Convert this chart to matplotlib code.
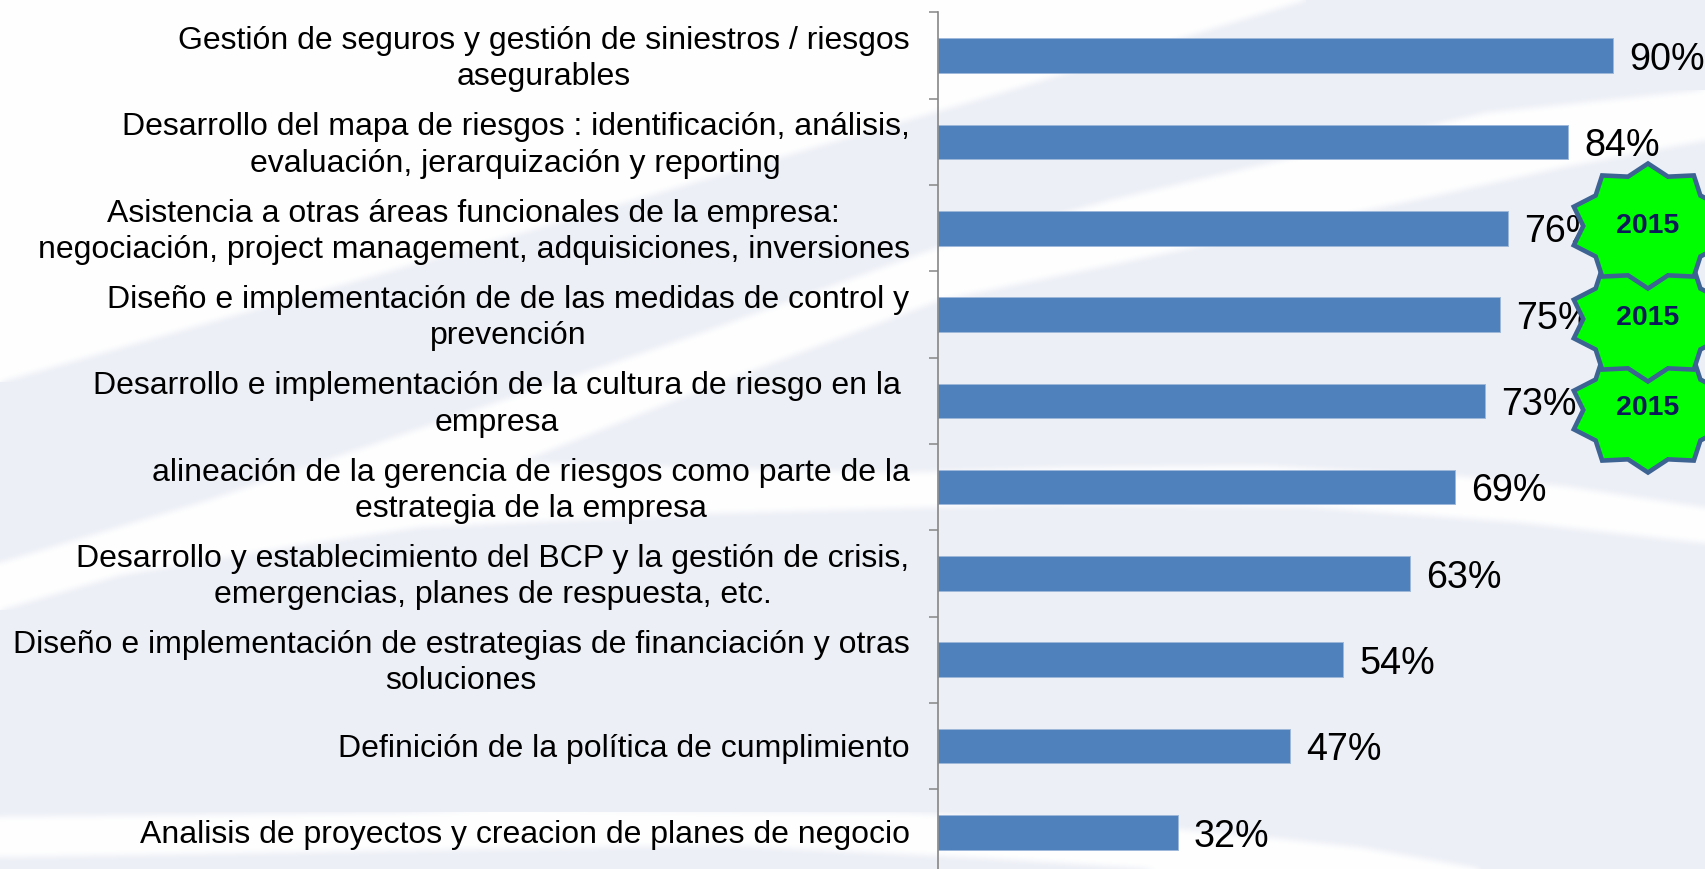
import numpy as np
import matplotlib
matplotlib.use("Agg")
import matplotlib.pyplot as plt
from matplotlib.patches import Polygon
from matplotlib.transforms import Affine2D, ScaledTranslation

W, H = 1706, 869

categories = [
    "Gestión de seguros y gestión de siniestros / riesgos\nasegurables",
    "Desarrollo del mapa de riesgos : identificación, análisis,\nevaluación, jerarquización y reporting",
    "Asistencia a otras áreas funcionales de la empresa:\nnegociación, project management, adquisiciones, inversiones",
    "Diseño e implementación de de las medidas de control y\nprevención",
    "Desarrollo e implementación de la cultura de riesgo en la\nempresa",
    "alineación de la gerencia de riesgos como parte de la\nestrategia de la empresa",
    "Desarrollo y establecimiento del BCP y la gestión de crisis,\nemergencias, planes de respuesta, etc.",
    "Diseño e implementación de estrategias de financiación y otras\nsoluciones",
    "Definición de la política de cumplimiento",
    "Analisis de proyectos y creacion de planes de negocio",
]
values = [90, 84, 76, 75, 73, 69, 63, 54, 47, 32]
badge_label = "2015"

plt.rcParams['font.family'] = ['Liberation Sans', 'DejaVu Sans']

fig = plt.figure(figsize=(W / 100, H / 100), dpi=100, facecolor='#ECEFF6')
px = Affine2D().scale(1 / W, -1 / H).translate(0, 1) + fig.transFigure


def soften(image, dpi, radius=3, passes=2):
    """Blur only the alpha channel so the swoosh edges fade like the source picture."""
    out = image.copy()
    a = out[..., 3]
    pad = radius * passes
    a = np.pad(a, pad, mode='edge')
    kernel = np.ones(2 * radius + 1) / (2 * radius + 1)
    for _ in range(passes):
        a = np.apply_along_axis(lambda m: np.convolve(m, kernel, mode='same'), 0, a)
        a = np.apply_along_axis(lambda m: np.convolve(m, kernel, mode='same'), 1, a)
    out[..., 3] = a[pad:-pad, pad:-pad]
    out[..., :3] = 1.0
    return out, 0, 0


# background swooshes (pixel outlines of the decorative picture)
white_shapes = [
    [(0, 0), (1306, 0), (1000, 93), (421, 262), (0, 382)],
    [(0, 563), (210, 500), (702, 333), (940, 247), (1112, 200), (1486, 113), (1706, 90),
     (1706, 140), (1563, 167), (1428, 197), (1100, 267), (940, 300), (700, 390), (520, 462),
     (700, 468), (900, 473), (1054, 468), (1260, 466), (1465, 477), (1568, 487), (1706, 508),
     (1706, 543), (1517, 522), (1311, 507), (1054, 505), (940, 507), (720, 513), (420, 527),
     (300, 545), (120, 575), (0, 610)],
    [(0, 817), (500, 812), (900, 813), (1100, 822), (1270, 838), (1363, 848), (1481, 869),
     (1157, 869), (987, 858), (720, 845), (0, 857)],
]
for pts in white_shapes:
    shape = Polygon(pts, closed=True, transform=px, facecolor='white',
                    edgecolor='none', zorder=-5)
    shape.set_agg_filter(soften)
    fig.add_artist(shape)

ax = fig.add_axes([938 / W, (H - 875.5) / H, (W - 938) / W, 863 / H])
ax.patch.set_alpha(0)
y = np.arange(len(values))
ax.barh(y, values, height=0.4, color='#4F81BD', edgecolor='#9DB8DA', linewidth=0.7)
ax.set_xlim(0, (W - 938) / 7.5)
ax.set_ylim(len(values) - 0.5, -0.5)

for s in ('top', 'right', 'bottom'):
    ax.spines[s].set_visible(False)
ax.spines['left'].set_color('#868686')
ax.spines['left'].set_linewidth(1.2)
ax.xaxis.set_visible(False)

ax.set_yticks(np.arange(len(values) + 1) - 0.5)
ax.set_yticklabels([])
ax.tick_params(axis='y', which='major', length=6.5, width=1.1, color='#868686')
ax.set_yticks(y, minor=True)
ax.set_yticklabels(categories, minor=True, fontsize=23, color='#000000',
                   ha='right', multialignment='center', linespacing=1.27)
ax.tick_params(axis='y', which='minor', length=0, pad=20.5)
for i, (lab, text) in enumerate(zip(ax.get_yticklabels(minor=True), categories)):
    dx = -9 if i == 4 else 0
    dy = 3 if '\n' in text else 1
    lab.set_transform(lab.get_transform() + ScaledTranslation(dx / 100, dy / 100, fig.dpi_scale_trans))

for yi, v in zip(y, values):
    ax.annotate(f"{v}%", (v, yi), xytext=(11.5, -3), textcoords='offset points',
                va='center', ha='left', fontsize=27.2, color='#000000', annotation_clip=False)


# badges
def star(cx, cy, rx=78, ry=62.5, inner=0.83, tips=10):
    ang = np.pi / 2 + np.arange(2 * tips) * np.pi / tips
    r = np.where(np.arange(2 * tips) % 2 == 0, 1.0, inner)
    return np.column_stack([cx + rx * r * np.cos(ang), cy - ry * r * np.sin(ang)])


star_centres = [226, 319, 410]
star_text_y = [226, 318, 408]
for k, (cy, ty) in enumerate(zip(star_centres, star_text_y)):
    z = 10 - k
    fig.add_artist(Polygon(star(1648, cy), closed=True, transform=px, facecolor='#00FF00',
                           edgecolor='#3D6393', linewidth=3.3, joinstyle='miter', zorder=z))
    fig.text(1648 / W, 1 - ty / H, badge_label, ha='center', va='center', fontsize=20.5,
             fontweight='bold', color='#0C1A5A', zorder=z + 0.5)

fig.savefig('out.png', dpi=100, facecolor=fig.get_facecolor())
